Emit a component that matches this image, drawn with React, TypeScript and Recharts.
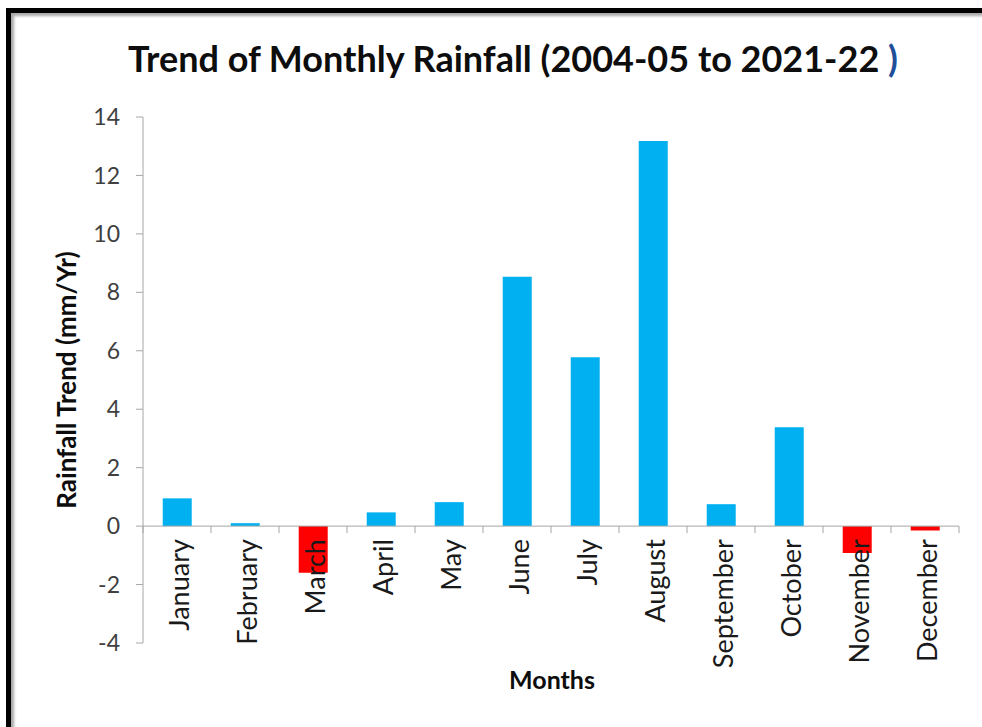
import React from 'react';
import { BarChart, Bar, XAxis, YAxis, Cell, ReferenceLine } from 'recharts';

// Monthly rainfall trend, mm/yr
const months = [
  'January', 'February', 'March', 'April', 'May', 'June',
  'July', 'August', 'September', 'October', 'November', 'December',
];
const trend = [0.95, 0.1, -1.6, 0.47, 0.82, 8.53, 5.78, 13.18, 0.75, 3.38, -0.92, -0.15];
const yTicks = [-4, -2, 0, 2, 4, 6, 8, 10, 12, 14];

const data = months.map((month, i) => ({ month, trend: trend[i] }));

const W = 982;
const H = 727;
const X_AXIS_H = 84;
const MARGIN = { top: 117, right: 23, bottom: 0, left: 83 };
const Y_AXIS_W = 60;
const Y_MIN = -4;
const Y_MAX = 14;
const PLOT_W = W - MARGIN.left - Y_AXIS_W - MARGIN.right;
const PLOT_H = H - MARGIN.top - X_AXIS_H;
const ZERO_Y = MARGIN.top + (PLOT_H * Y_MAX) / (Y_MAX - Y_MIN);
const BAND = PLOT_W / months.length;

const AXIS = '#a6a6a6';
const FONT = 'Lato, "Open Sans", sans-serif';

// month labels hang below the zero line, tick marks sit between categories
const MonthTick = (props: any) => {
  const { x, index, payload } = props;
  const tx = x + 2;
  const ty = ZERO_Y + 13;
  return (
    <g>
      <line x1={x - BAND / 2} x2={x - BAND / 2} y1={ZERO_Y} y2={ZERO_Y + 7} stroke={AXIS} />
      {index === months.length - 1 && (
        <line x1={x + BAND / 2} x2={x + BAND / 2} y1={ZERO_Y} y2={ZERO_Y + 7} stroke={AXIS} />
      )}
      <text
        x={tx}
        y={ty}
        transform={`rotate(-90 ${tx} ${ty})`}
        textAnchor="end"
        dominantBaseline="central"
        fontFamily={FONT}
        fontSize={27}
        fill="#1a1a1a"
      >
        {payload.value}
      </text>
    </g>
  );
};

export default function App() {
  return (
    <div style={{ position: 'absolute', left: 0, top: 0, width: W, height: H, background: '#fff', fontFamily: FONT }}>
      <div
        style={{
          position: 'absolute',
          left: 6,
          top: 8,
          right: 0,
          bottom: 0,
          borderTop: '5px solid #000',
          borderLeft: '5px solid #000',
          boxShadow: 'inset 3px 3px 3px rgba(0,0,0,0.35)',
        }}
      />
      <div
        style={{
          position: 'absolute',
          left: 0,
          width: 1026,
          top: 37,
          lineHeight: 1.2,
          textAlign: 'center',
          fontSize: 36,
          fontWeight: 700,
          color: '#0d0d0d',
          whiteSpace: 'pre',
        }}
      >
        Trend of Monthly Rainfall (2004-05 to 2021-22 <span style={{ color: '#1f4e9a' }}>)</span>
      </div>
      <div
        style={{
          position: 'absolute',
          left: 66,
          top: 380,
          transform: 'translate(-50%, -50%) rotate(-90deg)',
          fontSize: 26,
          fontWeight: 700,
          color: '#0d0d0d',
          whiteSpace: 'nowrap',
        }}
      >
        Rainfall Trend (mm/Yr)
      </div>
      <div
        style={{
          position: 'absolute',
          left: 552,
          top: 679,
          transform: 'translate(-50%, -50%)',
          fontSize: 25,
          fontWeight: 700,
          color: '#0d0d0d',
        }}
      >
        Months
      </div>
      <BarChart
        width={W}
        height={H}
        data={data}
        margin={MARGIN}
        barCategoryGap="29%"
        style={{ position: 'absolute', left: 0, top: 0 }}
      >
        <XAxis
          dataKey="month"
          height={X_AXIS_H}
          axisLine={false}
          tickLine={false}
          interval={0}
          tick={<MonthTick />}
        />
        <YAxis
          width={Y_AXIS_W}
          domain={[Y_MIN, Y_MAX]}
          ticks={yTicks}
          interval={0}
          axisLine={{ stroke: AXIS }}
          tickLine={{ stroke: AXIS }}
          tickSize={7}
          tickMargin={16}
          tick={{ fill: '#404040', fontSize: 23, fontFamily: FONT }}
        />
        <Bar dataKey="trend" isAnimationActive={false}>
          {data.map((d) => (
            <Cell key={d.month} fill={d.trend < 0 ? '#ff0000' : '#00b0f0'} />
          ))}
        </Bar>
        <ReferenceLine y={0} stroke={AXIS} />
      </BarChart>
    </div>
  );
}
